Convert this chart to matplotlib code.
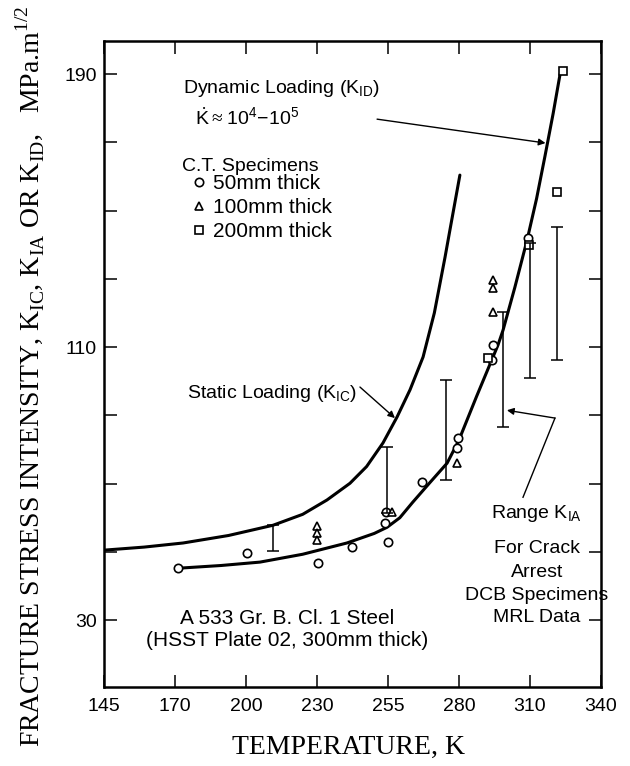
import matplotlib
matplotlib.use("Agg")
import matplotlib.pyplot as plt

plt.rcParams["font.family"] = ["Liberation Sans", "DejaVu Sans"]
plt.rcParams["mathtext.fontset"] = "custom"
plt.rcParams["mathtext.rm"] = "Liberation Serif"
plt.rcParams["mathtext.sf"] = "Liberation Sans"

# x axis is evenly spaced (original in deg F) but labelled in K
xtick_pos = [144.26, 172.04, 199.82, 227.59, 255.37, 283.15, 310.93, 338.71]
xtick_lab = ["145", "170", "200", "230", "255", "280", "310", "340"]
ytick_pos = [30, 50, 70, 90, 110, 130, 150, 170, 190]
ytick_lab = ["30", "", "", "", "110", "", "", "", "190"]

# dynamic loading curve (K_ID)
dyn_T = [173.2, 190.0, 205.3, 222.0, 239.3, 250.0, 255.0, 260.0, 265.0, 272.0, 278.5,
         283.1, 290.0, 298.4, 300.4, 305.0, 309.8, 313.5, 316.8, 320.0, 322.7, 323.8]
dyn_K = [45.2, 46.0, 47.0, 49.3, 52.6, 55.4, 57.2, 60.0, 64.5, 70.5, 76.0,
         82.7, 95.5, 110.6, 115.0, 127.5, 141.4, 153.5, 166.0, 178.5, 190.0, 190.9]

# static loading curve (K_IC)
sta_T = [144.26, 160.0, 175.2, 193.0, 210.4, 222.0, 231.5, 240.5, 247.0, 253.4, 258.9,
         264.0, 269.1, 273.5, 277.7, 279.6, 283.5]
sta_K = [50.5, 51.4, 52.6, 54.8, 57.8, 61.0, 65.2, 70.1, 75.0, 81.9, 89.5,
         97.5, 107.1, 120.0, 136.4, 144.3, 160.4]

# C.T. specimens
t50 = [173.2, 200.2, 228.0, 241.3, 255.4, 254.2, 254.6, 268.7, 282.4, 282.6, 296.4, 296.0, 310.2]
k50 = [45.2, 49.8, 46.6, 51.3, 52.8, 58.6, 61.6, 70.4, 80.5, 83.5, 110.6, 106.2, 141.9]
t100 = [227.6, 227.6, 227.6, 256.9, 282.4, 296.4, 296.4, 296.4]
k100 = [57.5, 55.5, 53.5, 61.6, 76.0, 120.3, 129.6, 127.4]
t200 = [294.5, 310.5, 321.5, 323.8]
k200 = [106.8, 139.9, 155.4, 190.9]

# range of K_IA, DCB specimens (MRL data)
arr_T = [210.4, 255.0, 278.1, 300.4, 311.0, 321.5]
arr_lo = [50.2, 61.4, 71.0, 86.6, 100.9, 106.2]
arr_hi = [57.8, 80.7, 100.3, 120.3, 140.5, 145.2]

fig = plt.figure(figsize=(6.3, 7.66), dpi=100)
ax = fig.add_axes([104 / 630, 79 / 766, 497 / 630, 646 / 766])

ax.plot(dyn_T, dyn_K, color="k", lw=2.2, solid_capstyle="round")
ax.plot(sta_T, sta_K, color="k", lw=2.2, solid_capstyle="round")

mk = dict(ls="none", mfc="white", mec="k", mew=1.2, ms=6)
h50, = ax.plot(t50, k50, "o", label="50mm thick", **mk)
h100, = ax.plot(t100, k100, "^", label="100mm thick", **mk)
h200, = ax.plot(t200, k200, "s", label="200mm thick", **mk)

lo = [0] * len(arr_lo)
hi = [h - l for h, l in zip(arr_hi, arr_lo)]
ax.errorbar(arr_T, arr_lo, yerr=[lo, hi], fmt="none", ecolor="k", elinewidth=1.1,
            capsize=4.5, capthick=1.1)

ax.set_xlim(144.26, 338.71)
ax.set_ylim(10.4, 199.7)
ax.set_xticks(xtick_pos)
ax.set_xticklabels(xtick_lab)
ax.set_yticks(ytick_pos)
ax.set_yticklabels(ytick_lab)
ax.tick_params(direction="in", length=9, width=1.1, top=True, right=True, labelsize=14)
ax.tick_params(axis="x", pad=8)
ax.tick_params(axis="y", pad=5)
for s in ax.spines.values():
    s.set_linewidth(1.8)

leg = ax.legend(handles=[h50, h100, h200], loc="upper left", bbox_to_anchor=(0.171, 0.794),
                frameon=False, fontsize=15, borderpad=0, borderaxespad=0,
                handlelength=1.0, handletextpad=0.15, labelspacing=0.25)
ax.text(0.157, 0.799, "C.T. Specimens", transform=ax.transAxes, fontsize=14, va="baseline")

ax.text(0.159, 0.9195, r"Dynamic Loading (K$_{\mathsf{ID}}$)", transform=ax.transAxes,
        fontsize=14, va="baseline")
ax.text(0.183, 0.870, r"$\dot{\mathsf{K}}\approx\mathsf{10^{4}\!-\!10^{5}}$",
        transform=ax.transAxes, fontsize=14, va="baseline")
ax.annotate("", xy=(317.0, 169.8), xytext=(251.1, 176.8),
            arrowprops=dict(arrowstyle="-|>", lw=1.0, color="k", mutation_scale=10,
                            shrinkA=0, shrinkB=0))

ax.text(0.167, 0.447, r"Static Loading (K$_{\mathsf{IC}}$)", transform=ax.transAxes,
        fontsize=14, va="baseline")
ax.annotate("", xy=(258.1, 89.2), xytext=(244.4, 98.3),
            arrowprops=dict(arrowstyle="-|>", lw=1.0, color="k", mutation_scale=10,
                            shrinkA=0, shrinkB=0))

rng_lines = [r"Range K$_{\mathsf{IA}}$", "For Crack", "Arrest", "DCB Specimens", "MRL Data"]
rng_y = [0.2616, 0.2074, 0.1703, 0.1347, 0.1006]
for s, yy in zip(rng_lines, rng_y):
    ax.text(0.871, yy, s, transform=ax.transAxes, fontsize=14, ha="center", va="baseline")
ax.plot([308.2, 320.7], [66.0, 89.2], color="k", lw=1.0)
ax.annotate("", xy=(301.9, 91.5), xytext=(320.7, 89.2),
            arrowprops=dict(arrowstyle="-|>", lw=1.0, color="k", mutation_scale=10,
                            shrinkA=0, shrinkB=0))

ax.text(0.368, 0.0975, "A 533 Gr. B. Cl. 1 Steel", transform=ax.transAxes, fontsize=15,
        ha="center", va="baseline")
ax.text(0.368, 0.0635, "(HSST Plate 02, 300mm thick)", transform=ax.transAxes, fontsize=15,
        ha="center", va="baseline")

fig.text(30 / 630, 1 - 376 / 766,
         r"FRACTURE STRESS INTENSITY, K$_{\mathrm{IC}}$, K$_{\mathrm{IA}}$ OR K$_{\mathrm{ID}}$,   MPa.m$^{\mathrm{1/2}}$",
         rotation=90, ha="center", va="center", fontsize=20, family="Liberation Serif")
fig.text(348 / 630, 1 - 754 / 766, "TEMPERATURE, K", ha="center", va="baseline",
         fontsize=20, family="Liberation Serif")

fig.savefig("out.png", dpi=100)
